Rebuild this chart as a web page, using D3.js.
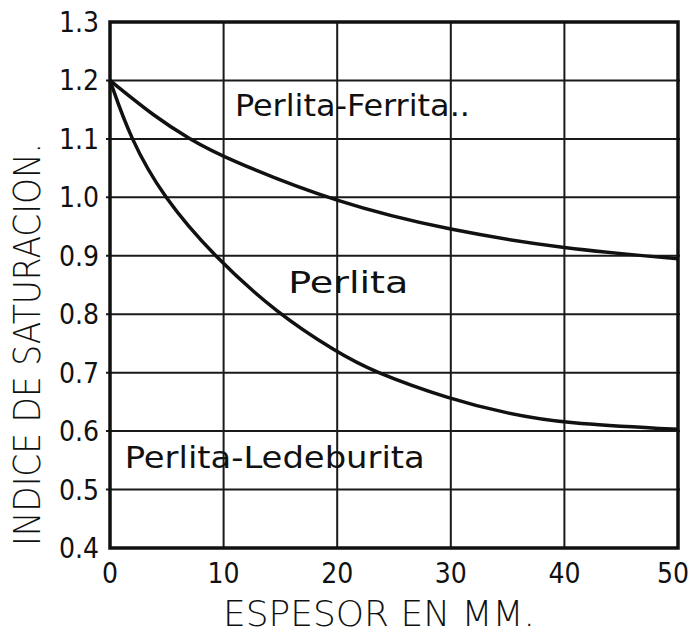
<!DOCTYPE html>
<html>
<head>
<meta charset="utf-8">
<script src="https://cdn.jsdelivr.net/npm/d3@7"></script>
<style>
  body { margin: 0; background: #fff; }
  text { font-family: "Liberation Sans Narrow", "DejaVu Sans Condensed", "Liberation Sans", sans-serif; fill: #111; }
</style>
</head>
<body>
<div class="chart"></div>
<script>
// data
var xTicks = [0, 10, 20, 30, 40, 50];
var yTicks = [0.4, 0.5, 0.6, 0.7, 0.8, 0.9, 1.0, 1.1, 1.2, 1.3];
var yTickLabels = ["0.4", "0.5", "0.6", "0.7", "0.8", "0.9", "1.0", "1.1", "1.2", "1.3"];

// limite perlita-ferrita / perlita
var upperX = [0, 4, 7, 10, 20, 30, 40, 50];
var upperY = [1.2, 1.137, 1.1, 1.068, 0.99, 0.943, 0.912, 0.895];

// limite perlita / perlita-ledeburita
var lowerX = [0, 1.8, 4.7, 9.1, 14.8, 20, 23, 30, 35, 40, 50];
var lowerY = [1.2, 1.1, 1.0, 0.9, 0.8, 0.735, 0.703, 0.654, 0.63, 0.613, 0.603];

var regionLabels = ["Perlita-Ferrita..", "Perlita", "Perlita-Ledeburita"];
var regionPos = [[11.0, 1.14], [15.7, 0.836], [1.3, 0.537]];
var labelWidths = [235, 120, 300];

var w = 694, h = 637;
var svg = d3.select(".chart").append("svg")
    .attr("width", w)
    .attr("height", h);

var x = d3.scaleLinear().domain([0, 50]).range([110, 678]);
var y = d3.scaleLinear().domain([0.4, 1.3]).range([548, 22]);

// grid
svg.append("g").selectAll("line")
    .data(xTicks.slice(1, -1))
    .enter().append("line")
    .attr("x1", function (d) { return x(d); })
    .attr("x2", function (d) { return x(d); })
    .attr("y1", y(1.3))
    .attr("y2", y(0.4))
    .attr("stroke", "#1a1a1a")
    .attr("stroke-width", 2);

svg.append("g").selectAll("line")
    .data(yTicks.slice(1, -1))
    .enter().append("line")
    .attr("x1", x(0) - 4)
    .attr("x2", x(50) + 2)
    .attr("y1", function (d) { return y(d); })
    .attr("y2", function (d) { return y(d); })
    .attr("stroke", "#1a1a1a")
    .attr("stroke-width", 2);

// frame
svg.append("rect")
    .attr("x", x(0))
    .attr("y", y(1.3))
    .attr("width", x(50) - x(0))
    .attr("height", y(0.4) - y(1.3))
    .attr("fill", "none")
    .attr("stroke", "#111")
    .attr("stroke-width", 3.5);

// curves
var line = d3.line()
    .x(function (d) { return x(d[0]); })
    .y(function (d) { return y(d[1]); })
    .curve(d3.curveBasis);

[[upperX, upperY], [lowerX, lowerY]].forEach(function (s) {
    svg.append("path")
        .datum(d3.zip(s[0], s[1]))
        .attr("d", line)
        .attr("fill", "none")
        .attr("stroke", "#111")
        .attr("stroke-width", 3.5);
});

// tick labels
svg.append("g").selectAll("text")
    .data(yTicks)
    .enter().append("text")
    .attr("x", 99)
    .attr("y", function (d) { return y(d) + 10; })
    .attr("text-anchor", "end")
    .attr("font-size", 28)
    .text(function (d, i) { return yTickLabels[i]; });

svg.append("g").selectAll("text")
    .data(xTicks)
    .enter().append("text")
    .attr("x", function (d) { return x(d) - (d === 50 ? 5 : 0); })
    .attr("y", 583)
    .attr("text-anchor", "middle")
    .attr("font-size", 28)
    .text(function (d) { return d; });

// axis titles
svg.append("text")
    .attr("x", 223)
    .attr("y", 626)
    .attr("font-size", 36)
    .attr("textLength", 312)
    .attr("lengthAdjust", "spacingAndGlyphs")
    .style("font-family", "'DejaVu Sans', sans-serif")
    .style("font-weight", 200)
    .text("ESPESOR EN MM.");

svg.append("text")
    .attr("transform", "translate(40,546) rotate(-90)")
    .attr("font-size", 38)
    .attr("textLength", 403)
    .attr("lengthAdjust", "spacingAndGlyphs")
    .style("font-family", "'DejaVu Sans', sans-serif")
    .style("font-weight", 200)
    .text("INDICE DE SATURACION.");

// region labels
svg.append("g").selectAll("text")
    .data(regionLabels)
    .enter().append("text")
    .attr("x", function (d, i) { return x(regionPos[i][0]); })
    .attr("y", function (d, i) { return y(regionPos[i][1]); })
    .attr("font-size", 31)
    .attr("textLength", function (d, i) { return labelWidths[i]; })
    .attr("lengthAdjust", "spacingAndGlyphs")
    .text(function (d) { return d; });
</script>
</body>
</html>
